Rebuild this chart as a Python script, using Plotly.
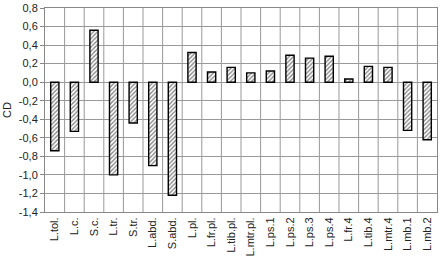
import plotly.graph_objects as go

categories = ["L.tol.", "L.c.", "S.c.", "L.tr.", "S.tr.", "L.abd.", "S.abd.", "L.pl.",
              "L.fr.pl.", "L.tib.pl.", "L.mtr.pl.", "L.ps.1", "L.ps.2", "L.ps.3", "L.ps.4",
              "L.fr.4", "L.tib.4", "L.mtr.4", "L.mb.1", "L.mb.2"]
values = [-0.74, -0.53, 0.56, -1.00, -0.44, -0.90, -1.22, 0.32,
          0.11, 0.16, 0.10, 0.12, 0.29, 0.26, 0.28,
          0.035, 0.17, 0.16, -0.52, -0.62]
y_ticks = [-1.4, -1.2, -1.0, -0.8, -0.6, -0.4, -0.2, 0.0, 0.2, 0.4, 0.6, 0.8]

fig = go.Figure(go.Bar(
    x=categories, y=values, width=0.42,
    marker=dict(color="white",
                line=dict(color="black", width=1.4),
                pattern=dict(shape="/", fgcolor="#111", bgcolor="white", size=3, solidity=0.45)),
))

fig.update_layout(
    width=440, height=260,
    margin=dict(l=45, r=2, t=6, b=48),
    plot_bgcolor="white", paper_bgcolor="white",
    font=dict(family="Arial, Liberation Sans, sans-serif", size=11, color="#222"),
    showlegend=False,
)
fig.update_xaxes(
    showgrid=False, tickangle=-90, ticks="",
    showline=True, linecolor="#888", linewidth=1, mirror=True,
    range=[-0.5, 19.5],
)
# vertical gridlines at category boundaries
for i in range(1, 20):
    fig.add_shape(type="line", xref="x", yref="paper", x0=i - 0.5, x1=i - 0.5, y0=0, y1=1,
                  line=dict(color="#999", width=1), layer="below")
fig.update_yaxes(
    range=[-1.4, 0.8001], tickmode="array", tickvals=y_ticks,
    ticktext=[f"{v:.1f}".replace(".", ",") for v in y_ticks],
    ticklabeloverflow="allow",
    showgrid=True, gridcolor="#999", gridwidth=1,
    showline=True, linecolor="#888", linewidth=1, mirror=True,
    ticks="outside", ticklen=4, tickcolor="#888",
    zeroline=False,
    title=dict(text="CD", standoff=4, font=dict(size=11)),
)

fig.write_html("out.html")
